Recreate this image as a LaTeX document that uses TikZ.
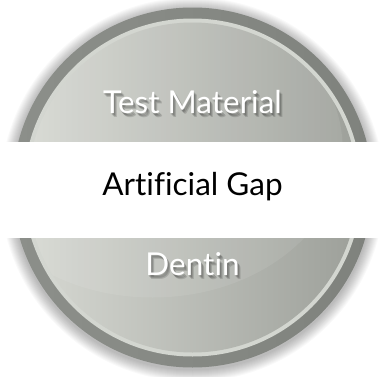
\documentclass[tikz,border=0pt]{standalone}
\usepackage{fontspec}
\setmainfont{Lato}[Ligatures=NoCommon]
\usetikzlibrary{positioning}
\definecolor{ringgray}{HTML}{8C8F8A}
\definecolor{ringdark}{HTML}{7F827D}
\definecolor{ringlight}{HTML}{D3D6D0}
\definecolor{disclight}{HTML}{D6D8D2}
\definecolor{discmid}{HTML}{C4C6C0}
\definecolor{discdark}{HTML}{9DA09A}
\tikzstyle{matlabel} = [text=white, font=\fontsize{31.5}{34}\selectfont, anchor=base, inner sep=0pt]
\tikzstyle{gaplabel} = [text=black, font=\fontsize{31.5}{34}\selectfont, anchor=base, inner sep=0pt]
\tikzstyle{textshadow} = [text=black, opacity=0.14, font=\fontsize{31.5}{34}\selectfont, anchor=base, inner sep=0pt]

\begin{document}
\begin{tikzpicture}[x=1pt, y=1pt]
\useasboundingbox (0,0) rectangle (385,376);
\fill[white] (0,0) rectangle (385,376);
\coordinate (centre) at (192.5,188.5);

% soft shadow round the disc
\foreach \r in {181,...,192}
  \fill[black, opacity=0.022] ([yshift=-2pt]centre) circle (\r);

% ring and disc
\shade[left color=ringgray, right color=ringdark] (centre) circle (180);
\fill[ringlight] (centre) circle (169);
\shade[left color=disclight, middle color=discmid, right color=discdark] (centre) circle (165);
\begin{scope}
  \clip (centre) circle (165);
  \fill[white, opacity=0.08] ([shift={(-40,40)}]centre) ellipse (190 and 150);
\end{scope}

% gap band
\fill[white] (0,138) rectangle (385,234);

% labels
\foreach \dx/\dy in {1/-2, 2/-3, 3/-4}
  \node (testmat-sh) [textshadow] at (192.5+\dx, 263+\dy) {Test Material};
\node (testmat) [matlabel] at (192.5, 263) {Test Material};
\node (gap) [gaplabel] at (192.5, 181) {Artificial Gap};
\foreach \dx/\dy in {1/-2, 2/-3, 3/-4}
  \node (dentin-sh) [textshadow] at (192.5+\dx, 101+\dy) {Dentin};
\node (dentin) [matlabel] at (192.5, 101) {Dentin};
\end{tikzpicture}
\end{document}
